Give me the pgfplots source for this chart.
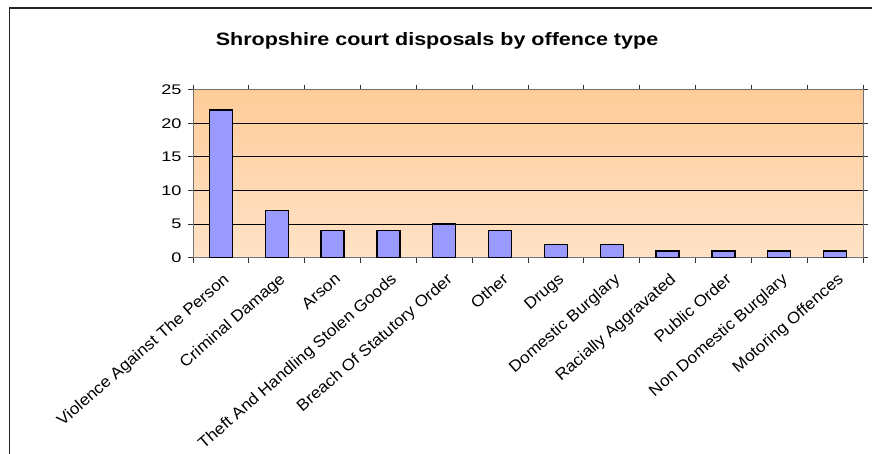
\documentclass[border=0pt]{standalone}
\usepackage{fontspec}
\setmainfont{Liberation Sans}[FakeStretch=1.2]
\newfontfamily\lblfont{Liberation Sans}[FakeStretch=1.08]
\newfontfamily\numfont{Liberation Sans}[FakeStretch=1.3]
\usepackage{pgfplots}
\pgfplotsset{compat=1.18}
\definecolor{barblue}{RGB}{153,153,255}
\definecolor{bgtop}{RGB}{255,204,153}
\definecolor{bgbot}{RGB}{255,226,199}
\begin{document}
\begin{tikzpicture}
\path[use as bounding box] (0,0) rectangle (872bp,454bp);
\fill[white] (0,0) rectangle (872bp,454bp);
\draw[line width=1.3bp, color=black!85] (9.5bp,0) -- (9.5bp,446bp) -- (872bp,446bp);
\node[anchor=base, font=\bfseries\fontsize{18}{20}\selectfont] at (437bp,408bp) {Shropshire court disposals by offence type};
\begin{axis}[
  at={(193bp,196.3bp)}, anchor=south west,
  scale only axis, width=670bp, height=168bp,
  xmin=-0.5, xmax=11.5, ymin=0, ymax=25,
  ytick={0,5,...,25},
  xtick={0,...,11},
  xticklabels={Violence Against The Person, Criminal Damage, Arson, Theft And Handling Stolen Goods, Breach Of Statutory Order, Other, Drugs, Domestic Burglary, Racially Aggravated, Public Order, Non Domestic Burglary, Motoring Offences},
  minor xtick={-0.5,0.5,...,11.5},
  tick align=outside,
  major tick length=5bp, minor tick length=5bp,
  major x tick style={draw=none},
  minor x tick style={draw=black!80, line width=0.8bp},
  ytick style={draw=black!80, line width=0.8bp},
  ymajorgrids, grid style={black, line width=0.8bp},
  axis line style={draw=black!55, line width=0.9bp},
  axis background/.style={top color=bgtop, bottom color=bgbot},
  /pgf/number format/assume math mode=true,
  yticklabel style={font=\numfont\fontsize{14}{16}\selectfont, xshift=-3bp},
  xticklabel style={font=\lblfont\fontsize{16}{18}\selectfont, rotate=41, anchor=north east, inner sep=2bp, xshift=-3bp, yshift=-6bp},
]
\addplot[ybar, bar width=23bp, fill=barblue, draw=black, line width=1.3bp]
  coordinates {(0,22) (1,7) (2,4) (3,4) (4,5) (5,4) (6,2) (7,2) (8,1) (9,1) (10,1) (11,1)};
\end{axis}
\end{tikzpicture}
\end{document}
